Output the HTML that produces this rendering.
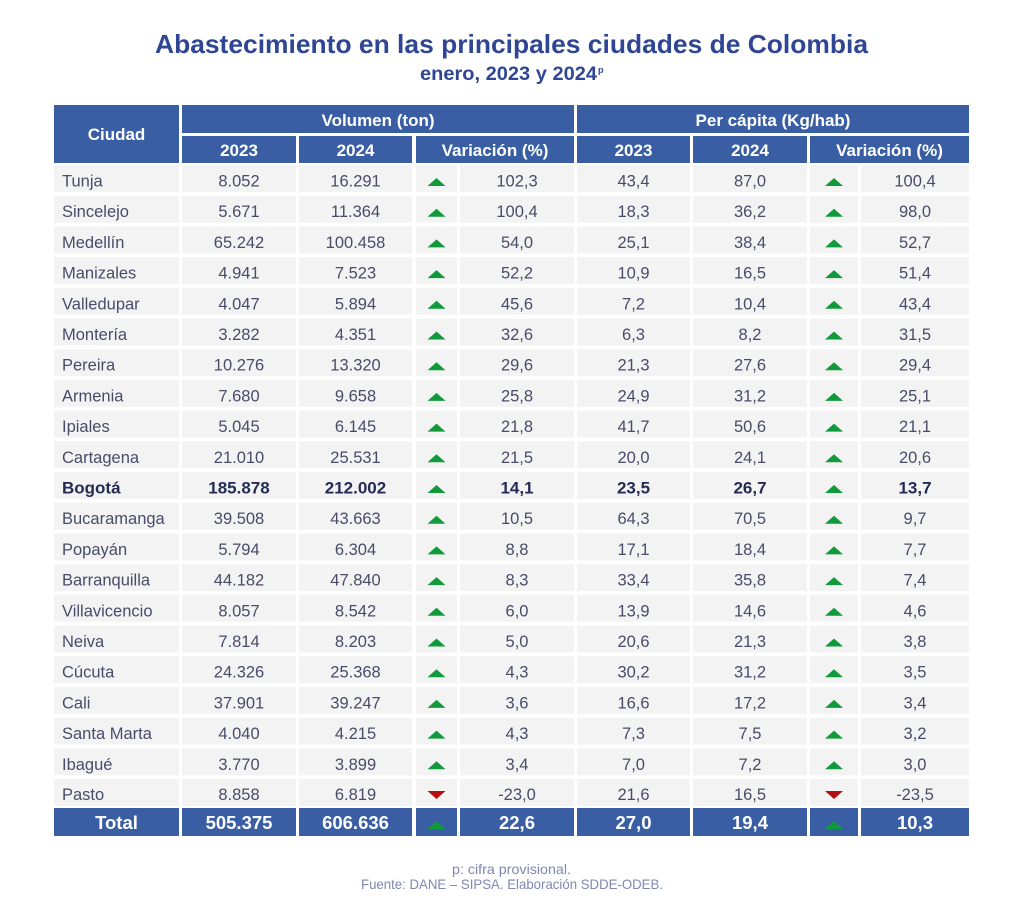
<!DOCTYPE html>
<html><head><meta charset="utf-8"><style>
html,body{margin:0;padding:0;background:#fff;}
svg{display:block;}
.h{font-family:"Liberation Sans",sans-serif;font-weight:bold;fill:#fff;font-size:17px;}
.d{font-family:"Liberation Sans",sans-serif;fill:#484c68;font-size:16.5px;}
.b{font-family:"Liberation Sans",sans-serif;fill:#262b55;font-size:17px;font-weight:bold;}
.t{font-family:"Liberation Sans",sans-serif;fill:#fff;font-size:18.5px;font-weight:bold;}
.c rect{fill:#f3f3f3;height:27px;}
.hb{fill:#3a5ea3;}
.up{fill:#119a3b;}
.dn{fill:#b3100f;}
</style></head><body>
<svg width="1024" height="924" viewBox="0 0 1024 924" xmlns="http://www.w3.org/2000/svg">
<rect width="1024" height="924" fill="#fff"/>
<text x="155" y="53" textLength="713" lengthAdjust="spacingAndGlyphs" font-family="Liberation Sans, sans-serif" font-weight="bold" font-size="26" fill="#2e4694">Abastecimiento en las principales ciudades de Colombia</text>
<text x="420" y="80" textLength="177" lengthAdjust="spacingAndGlyphs" font-family="Liberation Sans, sans-serif" font-weight="bold" font-size="19" fill="#2e4694">enero, 2023 y 2024</text>
<text x="598" y="73" font-family="Liberation Sans, sans-serif" font-weight="bold" font-size="9" fill="#2e4694">p</text>

<!-- header -->
<rect class="hb" x="54" y="105" width="125" height="58"/>
<rect class="hb" x="182" y="105" width="392" height="28"/>
<rect class="hb" x="577" y="105" width="392" height="28"/>
<rect class="hb" x="182" y="136" width="114" height="27"/>
<rect class="hb" x="299" y="136" width="113" height="27"/>
<rect class="hb" x="416" y="136" width="158" height="27"/>
<rect class="hb" x="577" y="136" width="113" height="27"/>
<rect class="hb" x="693" y="136" width="114" height="27"/>
<rect class="hb" x="810" y="136" width="159" height="27"/>
<g class="h" text-anchor="middle">
<text x="116.5" y="140">Ciudad</text>
<text x="378" y="126">Volumen (ton)</text>
<text x="773" y="126">Per cápita (Kg/hab)</text>
<text x="239" y="156">2023</text>
<text x="355.5" y="156">2024</text>
<text x="495" y="156">Variación (%)</text>
<text x="633.5" y="156">2023</text>
<text x="750" y="156">2024</text>
<text x="889.5" y="156">Variación (%)</text>
</g>

<g class="c">
<rect x="54" y="165" width="125"/><rect x="182" y="165" width="114"/><rect x="299" y="165" width="113"/><rect x="416" y="165" width="41"/><rect x="460" y="165" width="114"/><rect x="577" y="165" width="113"/><rect x="693" y="165" width="114"/><rect x="810" y="165" width="48"/><rect x="861" y="165" width="108"/>
<rect x="54" y="195.7" width="125"/><rect x="182" y="195.7" width="114"/><rect x="299" y="195.7" width="113"/><rect x="416" y="195.7" width="41"/><rect x="460" y="195.7" width="114"/><rect x="577" y="195.7" width="113"/><rect x="693" y="195.7" width="114"/><rect x="810" y="195.7" width="48"/><rect x="861" y="195.7" width="108"/>
<rect x="54" y="226.4" width="125"/><rect x="182" y="226.4" width="114"/><rect x="299" y="226.4" width="113"/><rect x="416" y="226.4" width="41"/><rect x="460" y="226.4" width="114"/><rect x="577" y="226.4" width="113"/><rect x="693" y="226.4" width="114"/><rect x="810" y="226.4" width="48"/><rect x="861" y="226.4" width="108"/>
<rect x="54" y="257.1" width="125"/><rect x="182" y="257.1" width="114"/><rect x="299" y="257.1" width="113"/><rect x="416" y="257.1" width="41"/><rect x="460" y="257.1" width="114"/><rect x="577" y="257.1" width="113"/><rect x="693" y="257.1" width="114"/><rect x="810" y="257.1" width="48"/><rect x="861" y="257.1" width="108"/>
<rect x="54" y="287.8" width="125"/><rect x="182" y="287.8" width="114"/><rect x="299" y="287.8" width="113"/><rect x="416" y="287.8" width="41"/><rect x="460" y="287.8" width="114"/><rect x="577" y="287.8" width="113"/><rect x="693" y="287.8" width="114"/><rect x="810" y="287.8" width="48"/><rect x="861" y="287.8" width="108"/>
<rect x="54" y="318.5" width="125"/><rect x="182" y="318.5" width="114"/><rect x="299" y="318.5" width="113"/><rect x="416" y="318.5" width="41"/><rect x="460" y="318.5" width="114"/><rect x="577" y="318.5" width="113"/><rect x="693" y="318.5" width="114"/><rect x="810" y="318.5" width="48"/><rect x="861" y="318.5" width="108"/>
<rect x="54" y="349.2" width="125"/><rect x="182" y="349.2" width="114"/><rect x="299" y="349.2" width="113"/><rect x="416" y="349.2" width="41"/><rect x="460" y="349.2" width="114"/><rect x="577" y="349.2" width="113"/><rect x="693" y="349.2" width="114"/><rect x="810" y="349.2" width="48"/><rect x="861" y="349.2" width="108"/>
<rect x="54" y="379.9" width="125"/><rect x="182" y="379.9" width="114"/><rect x="299" y="379.9" width="113"/><rect x="416" y="379.9" width="41"/><rect x="460" y="379.9" width="114"/><rect x="577" y="379.9" width="113"/><rect x="693" y="379.9" width="114"/><rect x="810" y="379.9" width="48"/><rect x="861" y="379.9" width="108"/>
<rect x="54" y="410.6" width="125"/><rect x="182" y="410.6" width="114"/><rect x="299" y="410.6" width="113"/><rect x="416" y="410.6" width="41"/><rect x="460" y="410.6" width="114"/><rect x="577" y="410.6" width="113"/><rect x="693" y="410.6" width="114"/><rect x="810" y="410.6" width="48"/><rect x="861" y="410.6" width="108"/>
<rect x="54" y="441.3" width="125"/><rect x="182" y="441.3" width="114"/><rect x="299" y="441.3" width="113"/><rect x="416" y="441.3" width="41"/><rect x="460" y="441.3" width="114"/><rect x="577" y="441.3" width="113"/><rect x="693" y="441.3" width="114"/><rect x="810" y="441.3" width="48"/><rect x="861" y="441.3" width="108"/>
<rect x="54" y="472.0" width="125"/><rect x="182" y="472.0" width="114"/><rect x="299" y="472.0" width="113"/><rect x="416" y="472.0" width="41"/><rect x="460" y="472.0" width="114"/><rect x="577" y="472.0" width="113"/><rect x="693" y="472.0" width="114"/><rect x="810" y="472.0" width="48"/><rect x="861" y="472.0" width="108"/>
<rect x="54" y="502.7" width="125"/><rect x="182" y="502.7" width="114"/><rect x="299" y="502.7" width="113"/><rect x="416" y="502.7" width="41"/><rect x="460" y="502.7" width="114"/><rect x="577" y="502.7" width="113"/><rect x="693" y="502.7" width="114"/><rect x="810" y="502.7" width="48"/><rect x="861" y="502.7" width="108"/>
<rect x="54" y="533.4" width="125"/><rect x="182" y="533.4" width="114"/><rect x="299" y="533.4" width="113"/><rect x="416" y="533.4" width="41"/><rect x="460" y="533.4" width="114"/><rect x="577" y="533.4" width="113"/><rect x="693" y="533.4" width="114"/><rect x="810" y="533.4" width="48"/><rect x="861" y="533.4" width="108"/>
<rect x="54" y="564.1" width="125"/><rect x="182" y="564.1" width="114"/><rect x="299" y="564.1" width="113"/><rect x="416" y="564.1" width="41"/><rect x="460" y="564.1" width="114"/><rect x="577" y="564.1" width="113"/><rect x="693" y="564.1" width="114"/><rect x="810" y="564.1" width="48"/><rect x="861" y="564.1" width="108"/>
<rect x="54" y="594.8" width="125"/><rect x="182" y="594.8" width="114"/><rect x="299" y="594.8" width="113"/><rect x="416" y="594.8" width="41"/><rect x="460" y="594.8" width="114"/><rect x="577" y="594.8" width="113"/><rect x="693" y="594.8" width="114"/><rect x="810" y="594.8" width="48"/><rect x="861" y="594.8" width="108"/>
<rect x="54" y="625.5" width="125"/><rect x="182" y="625.5" width="114"/><rect x="299" y="625.5" width="113"/><rect x="416" y="625.5" width="41"/><rect x="460" y="625.5" width="114"/><rect x="577" y="625.5" width="113"/><rect x="693" y="625.5" width="114"/><rect x="810" y="625.5" width="48"/><rect x="861" y="625.5" width="108"/>
<rect x="54" y="656.2" width="125"/><rect x="182" y="656.2" width="114"/><rect x="299" y="656.2" width="113"/><rect x="416" y="656.2" width="41"/><rect x="460" y="656.2" width="114"/><rect x="577" y="656.2" width="113"/><rect x="693" y="656.2" width="114"/><rect x="810" y="656.2" width="48"/><rect x="861" y="656.2" width="108"/>
<rect x="54" y="686.9" width="125"/><rect x="182" y="686.9" width="114"/><rect x="299" y="686.9" width="113"/><rect x="416" y="686.9" width="41"/><rect x="460" y="686.9" width="114"/><rect x="577" y="686.9" width="113"/><rect x="693" y="686.9" width="114"/><rect x="810" y="686.9" width="48"/><rect x="861" y="686.9" width="108"/>
<rect x="54" y="717.6" width="125"/><rect x="182" y="717.6" width="114"/><rect x="299" y="717.6" width="113"/><rect x="416" y="717.6" width="41"/><rect x="460" y="717.6" width="114"/><rect x="577" y="717.6" width="113"/><rect x="693" y="717.6" width="114"/><rect x="810" y="717.6" width="48"/><rect x="861" y="717.6" width="108"/>
<rect x="54" y="748.3" width="125"/><rect x="182" y="748.3" width="114"/><rect x="299" y="748.3" width="113"/><rect x="416" y="748.3" width="41"/><rect x="460" y="748.3" width="114"/><rect x="577" y="748.3" width="113"/><rect x="693" y="748.3" width="114"/><rect x="810" y="748.3" width="48"/><rect x="861" y="748.3" width="108"/>
<rect x="54" y="779.0" width="125"/><rect x="182" y="779.0" width="114"/><rect x="299" y="779.0" width="113"/><rect x="416" y="779.0" width="41"/><rect x="460" y="779.0" width="114"/><rect x="577" y="779.0" width="113"/><rect x="693" y="779.0" width="114"/><rect x="810" y="779.0" width="48"/><rect x="861" y="779.0" width="108"/>
</g>
<g class="hb">
<rect x="54" y="808" width="125" height="28"/><rect x="182" y="808" width="114" height="28"/><rect x="299" y="808" width="113" height="28"/><rect x="416" y="808" width="41" height="28"/><rect x="460" y="808" width="114" height="28"/><rect x="577" y="808" width="113" height="28"/><rect x="693" y="808" width="114" height="28"/><rect x="810" y="808" width="48" height="28"/><rect x="861" y="808" width="108" height="28"/>
</g>

<g class="up">
<path d="M427.5 186 L436.5 178 L445.5 186 Z"/><path d="M825 186 L834 178 L843 186 Z"/>
<path d="M427.5 216.7 L436.5 208.7 L445.5 216.7 Z"/><path d="M825 216.7 L834 208.7 L843 216.7 Z"/>
<path d="M427.5 247.4 L436.5 239.4 L445.5 247.4 Z"/><path d="M825 247.4 L834 239.4 L843 247.4 Z"/>
<path d="M427.5 278.1 L436.5 270.1 L445.5 278.1 Z"/><path d="M825 278.1 L834 270.1 L843 278.1 Z"/>
<path d="M427.5 308.8 L436.5 300.8 L445.5 308.8 Z"/><path d="M825 308.8 L834 300.8 L843 308.8 Z"/>
<path d="M427.5 339.5 L436.5 331.5 L445.5 339.5 Z"/><path d="M825 339.5 L834 331.5 L843 339.5 Z"/>
<path d="M427.5 370.2 L436.5 362.2 L445.5 370.2 Z"/><path d="M825 370.2 L834 362.2 L843 370.2 Z"/>
<path d="M427.5 400.9 L436.5 392.9 L445.5 400.9 Z"/><path d="M825 400.9 L834 392.9 L843 400.9 Z"/>
<path d="M427.5 431.6 L436.5 423.6 L445.5 431.6 Z"/><path d="M825 431.6 L834 423.6 L843 431.6 Z"/>
<path d="M427.5 462.3 L436.5 454.3 L445.5 462.3 Z"/><path d="M825 462.3 L834 454.3 L843 462.3 Z"/>
<path d="M427.5 493.0 L436.5 485.0 L445.5 493.0 Z"/><path d="M825 493.0 L834 485.0 L843 493.0 Z"/>
<path d="M427.5 523.7 L436.5 515.7 L445.5 523.7 Z"/><path d="M825 523.7 L834 515.7 L843 523.7 Z"/>
<path d="M427.5 554.4 L436.5 546.4 L445.5 554.4 Z"/><path d="M825 554.4 L834 546.4 L843 554.4 Z"/>
<path d="M427.5 585.1 L436.5 577.1 L445.5 585.1 Z"/><path d="M825 585.1 L834 577.1 L843 585.1 Z"/>
<path d="M427.5 615.8 L436.5 607.8 L445.5 615.8 Z"/><path d="M825 615.8 L834 607.8 L843 615.8 Z"/>
<path d="M427.5 646.5 L436.5 638.5 L445.5 646.5 Z"/><path d="M825 646.5 L834 638.5 L843 646.5 Z"/>
<path d="M427.5 677.2 L436.5 669.2 L445.5 677.2 Z"/><path d="M825 677.2 L834 669.2 L843 677.2 Z"/>
<path d="M427.5 707.9 L436.5 699.9 L445.5 707.9 Z"/><path d="M825 707.9 L834 699.9 L843 707.9 Z"/>
<path d="M427.5 738.6 L436.5 730.6 L445.5 738.6 Z"/><path d="M825 738.6 L834 730.6 L843 738.6 Z"/>
<path d="M427.5 769.3 L436.5 761.3 L445.5 769.3 Z"/><path d="M825 769.3 L834 761.3 L843 769.3 Z"/>
<path d="M427.5 829 L436.5 821 L445.5 829 Z"/><path d="M825 829 L834 821 L843 829 Z"/>
</g>
<g class="dn">
<path d="M427.5 791 L445.5 791 L436.5 799 Z"/><path d="M825 791 L843 791 L834 799 Z"/>
</g>

<g class="d">
<text x="62" y="186.5">Tunja</text>
<text x="62" y="217.2">Sincelejo</text>
<text x="62" y="247.9">Medellín</text>
<text x="62" y="278.6">Manizales</text>
<text x="62" y="309.3">Valledupar</text>
<text x="62" y="340.0">Montería</text>
<text x="62" y="370.7">Pereira</text>
<text x="62" y="401.4">Armenia</text>
<text x="62" y="432.1">Ipiales</text>
<text x="62" y="462.8">Cartagena</text>
<text x="62" y="524.2">Bucaramanga</text>
<text x="62" y="554.9">Popayán</text>
<text x="62" y="585.6">Barranquilla</text>
<text x="62" y="616.3">Villavicencio</text>
<text x="62" y="647.0">Neiva</text>
<text x="62" y="677.7">Cúcuta</text>
<text x="62" y="708.4">Cali</text>
<text x="62" y="739.1">Santa Marta</text>
<text x="62" y="769.8">Ibagué</text>
<text x="62" y="800.0">Pasto</text>
</g>
<g class="d" text-anchor="middle">
<text x="239" y="186.5">8.052</text><text x="355.5" y="186.5">16.291</text><text x="517" y="186.5">102,3</text><text x="633.5" y="186.5">43,4</text><text x="750" y="186.5">87,0</text><text x="915" y="186.5">100,4</text>
<text x="239" y="217.2">5.671</text><text x="355.5" y="217.2">11.364</text><text x="517" y="217.2">100,4</text><text x="633.5" y="217.2">18,3</text><text x="750" y="217.2">36,2</text><text x="915" y="217.2">98,0</text>
<text x="239" y="247.9">65.242</text><text x="355.5" y="247.9">100.458</text><text x="517" y="247.9">54,0</text><text x="633.5" y="247.9">25,1</text><text x="750" y="247.9">38,4</text><text x="915" y="247.9">52,7</text>
<text x="239" y="278.6">4.941</text><text x="355.5" y="278.6">7.523</text><text x="517" y="278.6">52,2</text><text x="633.5" y="278.6">10,9</text><text x="750" y="278.6">16,5</text><text x="915" y="278.6">51,4</text>
<text x="239" y="309.3">4.047</text><text x="355.5" y="309.3">5.894</text><text x="517" y="309.3">45,6</text><text x="633.5" y="309.3">7,2</text><text x="750" y="309.3">10,4</text><text x="915" y="309.3">43,4</text>
<text x="239" y="340.0">3.282</text><text x="355.5" y="340.0">4.351</text><text x="517" y="340.0">32,6</text><text x="633.5" y="340.0">6,3</text><text x="750" y="340.0">8,2</text><text x="915" y="340.0">31,5</text>
<text x="239" y="370.7">10.276</text><text x="355.5" y="370.7">13.320</text><text x="517" y="370.7">29,6</text><text x="633.5" y="370.7">21,3</text><text x="750" y="370.7">27,6</text><text x="915" y="370.7">29,4</text>
<text x="239" y="401.4">7.680</text><text x="355.5" y="401.4">9.658</text><text x="517" y="401.4">25,8</text><text x="633.5" y="401.4">24,9</text><text x="750" y="401.4">31,2</text><text x="915" y="401.4">25,1</text>
<text x="239" y="432.1">5.045</text><text x="355.5" y="432.1">6.145</text><text x="517" y="432.1">21,8</text><text x="633.5" y="432.1">41,7</text><text x="750" y="432.1">50,6</text><text x="915" y="432.1">21,1</text>
<text x="239" y="462.8">21.010</text><text x="355.5" y="462.8">25.531</text><text x="517" y="462.8">21,5</text><text x="633.5" y="462.8">20,0</text><text x="750" y="462.8">24,1</text><text x="915" y="462.8">20,6</text>
<text x="239" y="524.2">39.508</text><text x="355.5" y="524.2">43.663</text><text x="517" y="524.2">10,5</text><text x="633.5" y="524.2">64,3</text><text x="750" y="524.2">70,5</text><text x="915" y="524.2">9,7</text>
<text x="239" y="554.9">5.794</text><text x="355.5" y="554.9">6.304</text><text x="517" y="554.9">8,8</text><text x="633.5" y="554.9">17,1</text><text x="750" y="554.9">18,4</text><text x="915" y="554.9">7,7</text>
<text x="239" y="585.6">44.182</text><text x="355.5" y="585.6">47.840</text><text x="517" y="585.6">8,3</text><text x="633.5" y="585.6">33,4</text><text x="750" y="585.6">35,8</text><text x="915" y="585.6">7,4</text>
<text x="239" y="616.3">8.057</text><text x="355.5" y="616.3">8.542</text><text x="517" y="616.3">6,0</text><text x="633.5" y="616.3">13,9</text><text x="750" y="616.3">14,6</text><text x="915" y="616.3">4,6</text>
<text x="239" y="647.0">7.814</text><text x="355.5" y="647.0">8.203</text><text x="517" y="647.0">5,0</text><text x="633.5" y="647.0">20,6</text><text x="750" y="647.0">21,3</text><text x="915" y="647.0">3,8</text>
<text x="239" y="677.7">24.326</text><text x="355.5" y="677.7">25.368</text><text x="517" y="677.7">4,3</text><text x="633.5" y="677.7">30,2</text><text x="750" y="677.7">31,2</text><text x="915" y="677.7">3,5</text>
<text x="239" y="708.4">37.901</text><text x="355.5" y="708.4">39.247</text><text x="517" y="708.4">3,6</text><text x="633.5" y="708.4">16,6</text><text x="750" y="708.4">17,2</text><text x="915" y="708.4">3,4</text>
<text x="239" y="739.1">4.040</text><text x="355.5" y="739.1">4.215</text><text x="517" y="739.1">4,3</text><text x="633.5" y="739.1">7,3</text><text x="750" y="739.1">7,5</text><text x="915" y="739.1">3,2</text>
<text x="239" y="769.8">3.770</text><text x="355.5" y="769.8">3.899</text><text x="517" y="769.8">3,4</text><text x="633.5" y="769.8">7,0</text><text x="750" y="769.8">7,2</text><text x="915" y="769.8">3,0</text>
<text x="239" y="800.0">8.858</text><text x="355.5" y="800.0">6.819</text><text x="517" y="800.0">-23,0</text><text x="633.5" y="800.0">21,6</text><text x="750" y="800.0">16,5</text><text x="915" y="800.0">-23,5</text>
</g>
<g class="b">
<text x="62" y="493.6">Bogotá</text>
</g>
<g class="b" text-anchor="middle">
<text x="239" y="493.6">185.878</text><text x="355.5" y="493.6">212.002</text><text x="517" y="493.6">14,1</text><text x="633.5" y="493.6">23,5</text><text x="750" y="493.6">26,7</text><text x="915" y="493.6">13,7</text>
</g>
<g class="t" text-anchor="middle">
<text x="116.5" y="829">Total</text>
<text x="239" y="829">505.375</text><text x="355.5" y="829">606.636</text><text x="517" y="829">22,6</text><text x="633.5" y="829">27,0</text><text x="750" y="829">19,4</text><text x="915" y="829">10,3</text>
</g>

<g font-family="Liberation Sans, sans-serif" font-size="14" fill="#7f87b3">
<text x="452" y="874" textLength="119" lengthAdjust="spacingAndGlyphs">p: cifra provisional.</text>
<text x="361" y="889" textLength="302" lengthAdjust="spacingAndGlyphs">Fuente: DANE – SIPSA. Elaboración SDDE-ODEB.</text>
</g>
</svg>
</body></html>
